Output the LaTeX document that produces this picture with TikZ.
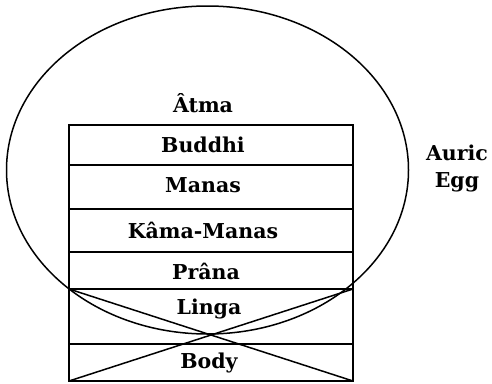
\documentclass[tikz,border=0pt]{standalone}
\usepackage{fontspec}
\setmainfont{DejaVu Serif}
\usetikzlibrary{positioning}

\begin{document}
\begin{tikzpicture}[
    x=1pt, y=-1pt,
    line width=1.5pt,
    principle/.style={
        font=\fontsize{20.5}{27}\selectfont\bfseries,
        inner sep=0pt,
        align=center
    },
    divider/.style={line width=1.5pt}
]
\useasboundingbox (0,0) rectangle (492,383);

% Column of principles
\coordinate (colNW) at (69,125);
\coordinate (colSE) at (353,381);
\coordinate (lingaNW) at (69,289);
\coordinate (lingaNE) at (353,289);
\coordinate (bodySW) at (69,381);
\coordinate (bodySE) at (353,381);
\draw (colNW) rectangle (colSE);
\foreach \y in {165,209,252,289,344}
    \draw[divider] (69,\y) -- (353,\y);

% Auric egg
\draw (207.5,170) ellipse [x radius=201, y radius=164];

% Cross over the lower principles
\draw (lingaNW) -- (bodySE);
\draw (lingaNE) -- (bodySW);

% Labels
\node[principle] (atma) at (203,103) {Âtma};
\node[principle] (buddhi) at (203,145) {Buddhi};
\node[principle] (manas) at (203,185) {Manas};
\node[principle] (kamamanas) at (203,230) {Kâma-Manas};
\node[principle] (prana) at (206,271) {Prâna};
\node[principle] (linga) at (209,309) {Linga};
\node[principle] (body) at (209,363) {Body};
\node[principle] (auric) at (457,168) {Auric\\Egg};

\end{tikzpicture}
\end{document}
